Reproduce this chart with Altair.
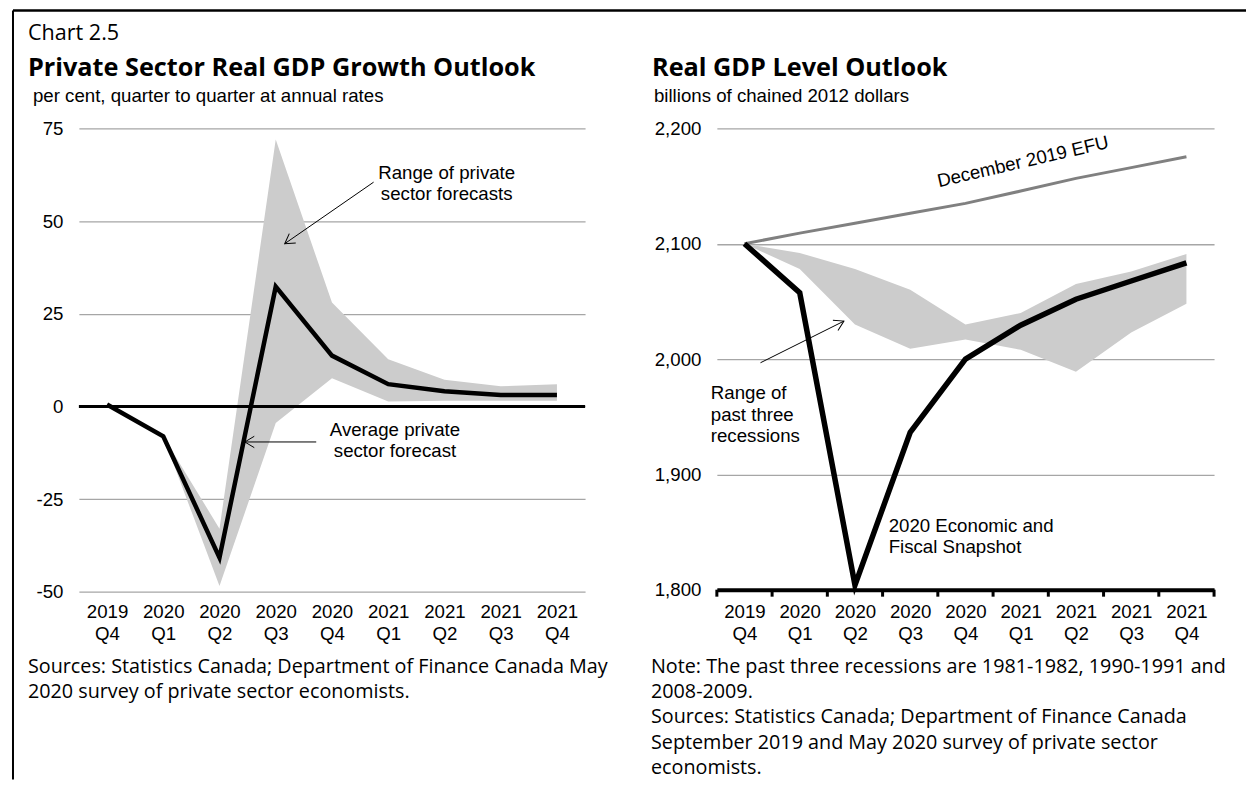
import math
import altair as alt
import pandas as pd

# ---------------- data ----------------
quarters = ["2019 Q4", "2020 Q1", "2020 Q2", "2020 Q3", "2020 Q4",
            "2021 Q1", "2021 Q2", "2021 Q3", "2021 Q4"]

growth_avg = [0.5, -8.1, -40.8, 32.3, 13.7, 6.0, 4.1, 3.1, 3.1]
growth_high = [None, -8.1, -33.0, 72.0, 28.0, 12.7, 7.2, 5.4, 6.0]
growth_low = [None, -8.1, -48.5, -4.5, 7.6, 1.3, 1.5, 1.5, 1.5]

level_snapshot = [2100, 2057.6, 1804, 1936.5, 2000, 2029.4, 2051.9, 2067.7, 2083.5]
level_efu = [2100, 2109.2, 2117.8, 2126.4, 2135, 2145.7, 2156.7, 2166, 2175.5]
recession_high = [2100, 2092, 2078, 2060, 2030, 2040, 2065, 2076, 2091]
recession_low = [2100, 2078, 2030, 2009, 2017, 2008, 1989, 2023, 2048]

growth_ticks = [-50, -25, 0, 25, 50, 75]
level_ticks = [1800, 1900, 2000, 2100, 2200]

# ---------------- styles ----------------
ARIAL = "Liberation Sans"
SEGOE = "Open Sans"
TXT = 18.7
NOTE = 19.8
NOTE_LH = 25.5
LW, LH = 507, 464
RW, RH = 498, 462
GAP = 132
LX0, TY0 = 78, 127            # page position of the left plot area
RX0 = LX0 + LW + GAP          # page position of the right plot area

pos = list(range(len(quarters)))
label_expr = "[" + ",".join(
    "['%s','%s']" % tuple(q.split()) for q in quarters) + "][datum.value]"

ARROW = "M-1,-0.6L0,0L-1,0.6"


def arrow_angle(x1, y1, x2, y2, sx, sy):
    dx = (x2 - x1) * sx
    dy = -(y2 - y1) * sy
    return math.degrees(math.atan2(dy, dx)) % 360


def page_text(text, px, py, x0, size, font, weight="normal", lh=None):
    return alt.Chart(pd.DataFrame({"t": [text]})).mark_text(
        align="left", baseline="alphabetic", font=font, fontSize=size,
        fontWeight=weight, color="black", lineBreak="\n",
        lineHeight=lh if lh else size * 1.3,
    ).encode(text="t:N", x=alt.value(px - x0), y=alt.value(py - TY0))


def ann_text(df, xenc, yenc, align, lh):
    return alt.Chart(df).mark_text(
        align=align, baseline="alphabetic", font=ARIAL, fontSize=TXT,
        color="black", lineBreak="\n", lineHeight=lh,
    ).encode(x=xenc, y=yenc, text="t:N")


# ================= left panel =================
xs_L = alt.Scale(domain=[-0.5, len(quarters) - 0.5], nice=False, zero=False)
ys_L = alt.Scale(domain=[-50, 75], nice=False, zero=False)
xa_L = alt.Axis(values=pos, labelExpr=label_expr, grid=False, domain=False,
                ticks=False, labelPadding=11, labelFlush=False,
                labelOverlap=False, labelLineHeight=21.5, title=None)
ya_L = alt.Axis(values=growth_ticks, grid=True, domain=False, ticks=False,
                labelPadding=16, labelFlush=False, labelOverlap=False,
                labelExpr="datum.value < 0 ? '-' + format(-datum.value, 'd') : format(datum.value, 'd')",
                title=None)


def XL(f):
    return alt.X(f, type="quantitative", scale=xs_L, axis=xa_L)


def YL(f):
    return alt.Y(f, type="quantitative", scale=ys_L, axis=ya_L)


dfL = pd.DataFrame({"pos": pos, "avg": growth_avg,
                    "hi": growth_high, "lo": growth_low})
band_L = alt.Chart(dfL.dropna()).mark_area(color="#cccccc", opacity=1).encode(
    x=XL("pos"), y=YL("hi"), y2="lo")
line_L = alt.Chart(dfL).mark_line(color="black", strokeWidth=4.5).encode(
    x=XL("pos"), y=YL("avg"))
zero_L = alt.Chart(pd.DataFrame({"z": [0]})).mark_rule(
    color="black", strokeWidth=3).encode(
    y=YL("z"), x=alt.value(0), x2=alt.value(LW))

sxL, syL = LW / len(quarters), LH / 125.0
arrL = pd.DataFrame({"x": [4.74, 3.72], "y": [60.5, -9.6],
                     "x2": [3.16, 2.45], "y2": [43.9, -9.6]})
arrL["ang"] = [arrow_angle(r.x, r.y, r.x2, r.y2, sxL, syL) for r in arrL.itertuples()]
arrline_L = alt.Chart(arrL).mark_rule(color="black", strokeWidth=1).encode(
    x=XL("x"), y=YL("y"), x2="x2", y2="y2")
arrhead_L = alt.Chart(arrL).mark_point(
    shape=ARROW, filled=False, stroke="black", strokeWidth=1, size=360,
    opacity=1).encode(x=XL("x2"), y=YL("y2"),
                      angle=alt.Angle("ang:Q", scale=None))
annL = pd.DataFrame({"x": [6.04, 5.12], "y": [61.3, -7.9],
                     "t": ["Range of private\nsector forecasts",
                           "Average private\nsector forecast"]})
anntext_L = ann_text(annL, XL("x"), YL("y"), "center", 21)

border_v = alt.Chart(pd.DataFrame({"a": [0]})).mark_rule(
    color="black", strokeWidth=2).encode(
    x=alt.value(-66), x2=alt.value(-66), y=alt.value(-118), y2=alt.value(652))
border_h = alt.Chart(pd.DataFrame({"a": [0]})).mark_rule(
    color="black", strokeWidth=2.5).encode(
    x=alt.value(-66), x2=alt.value(1169), y=alt.value(-118), y2=alt.value(-118))

left = alt.layer(
    band_L, zero_L, line_L, arrline_L, arrhead_L, anntext_L,
    border_v, border_h,
    page_text("Chart 2.5", 27, 38, LX0, 21.6, SEGOE),
    page_text("Private Sector Real GDP Growth Outlook", 27, 74, LX0, 25.3, SEGOE, "bold"),
    page_text("per cent, quarter to quarter at annual rates", 32, 101, LX0, TXT, ARIAL),
    page_text("Sources: Statistics Canada; Department of Finance Canada May\n"
              "2020 survey of private sector economists.", 27, 672, LX0, NOTE, SEGOE,
              lh=NOTE_LH),
).properties(width=LW, height=LH)

# ================= right panel =================
xs_R = alt.Scale(domain=[-0.5, len(quarters) - 0.5], nice=False, zero=False)
ys_R = alt.Scale(domain=[1800, 2200], nice=False, zero=False)
xa_R = alt.Axis(values=pos, labelExpr=label_expr, grid=False, domain=True,
                domainColor="black", domainWidth=4, ticks=False,
                labelPadding=13, labelFlush=False, labelOverlap=False,
                labelLineHeight=21.5, title=None)
ya_R = alt.Axis(values=level_ticks, format=",.0f", grid=True, domain=False,
                ticks=False, labelPadding=16, labelFlush=False,
                labelOverlap=False, title=None)


def XR(f):
    return alt.X(f, type="quantitative", scale=xs_R, axis=xa_R)


def YR(f):
    return alt.Y(f, type="quantitative", scale=ys_R, axis=ya_R)


dfR = pd.DataFrame({"pos": pos, "snap": level_snapshot, "efu": level_efu,
                    "hi": recession_high, "lo": recession_low})
band_R = alt.Chart(dfR).mark_area(color="#cccccc", opacity=1).encode(
    x=XR("pos"), y=YR("hi"), y2="lo")
efu_R = alt.Chart(dfR).mark_line(color="#808080", strokeWidth=3).encode(
    x=XR("pos"), y=YR("efu"))
snap_R = alt.Chart(dfR).mark_line(color="black", strokeWidth=5.5).encode(
    x=XR("pos"), y=YR("snap"))
tick_pos = [p - 0.5 for p in pos] + [pos[-1] + 0.5]
ticks_R = alt.Chart(pd.DataFrame({"tx": tick_pos})).mark_rule(
    color="black", strokeWidth=3).encode(
    x=XR("tx"), y=alt.value(RH), y2=alt.value(RH + 7))

sxR, syR = RW / len(quarters), RH / 400.0
arrR = pd.DataFrame({"x": [0.29], "y": [1996.8], "x2": [1.80], "y2": [2032.9]})
arrR["ang"] = [arrow_angle(r.x, r.y, r.x2, r.y2, sxR, syR) for r in arrR.itertuples()]
arrline_R = alt.Chart(arrR).mark_rule(color="black", strokeWidth=1).encode(
    x=XR("x"), y=YR("y"), x2="x2", y2="y2")
arrhead_R = alt.Chart(arrR).mark_point(
    shape=ARROW, filled=False, stroke="black", strokeWidth=1, size=360,
    opacity=1).encode(x=XR("x2"), y=YR("y2"),
                      angle=alt.Angle("ang:Q", scale=None))
annR = pd.DataFrame({"x": [-0.61, 2.61], "y": [1965.2, 1850.0],
                     "t": ["Range of\npast three\nrecessions",
                           "2020 Economic and\nFiscal Snapshot"]})
anntext_R = ann_text(annR, XR("x"), YR("y"), "left", 21.5)
efu_lbl = alt.Chart(pd.DataFrame({"x": [5.04], "y": [2171.2],
                                  "t": ["December 2019 EFU"]})).mark_text(
    align="center", baseline="middle", font=ARIAL, fontSize=TXT,
    color="black", angle=347).encode(x=XR("x"), y=YR("y"), text="t:N")

right = alt.layer(
    band_R, efu_R, snap_R, ticks_R, arrline_R, arrhead_R, anntext_R, efu_lbl,
    page_text("Real GDP Level Outlook", 652, 74, RX0, 25.3, SEGOE, "bold"),
    page_text("billions of chained 2012 dollars", 654, 101, RX0, TXT, ARIAL),
    page_text("Note: The past three recessions are 1981-1982, 1990-1991 and\n"
              "2008-2009.\n"
              "Sources: Statistics Canada; Department of Finance Canada\n"
              "September 2019 and May 2020 survey of private sector\n"
              "economists.", 651, 672, RX0, NOTE, SEGOE, lh=NOTE_LH),
).properties(width=RW, height=RH)

chart = alt.hconcat(left, right, spacing=GAP, bounds="flush").properties(
    padding={"left": 3, "top": 0, "right": 0, "bottom": 0},
    background="white",
).configure_view(stroke=None).configure_axis(
    labelFont=ARIAL, labelFontSize=TXT, labelColor="black",
    gridColor="#a6a6a6", gridWidth=1.3,
)

chart.save("out.html", embed_options={"renderer": "svg", "actions": False})
